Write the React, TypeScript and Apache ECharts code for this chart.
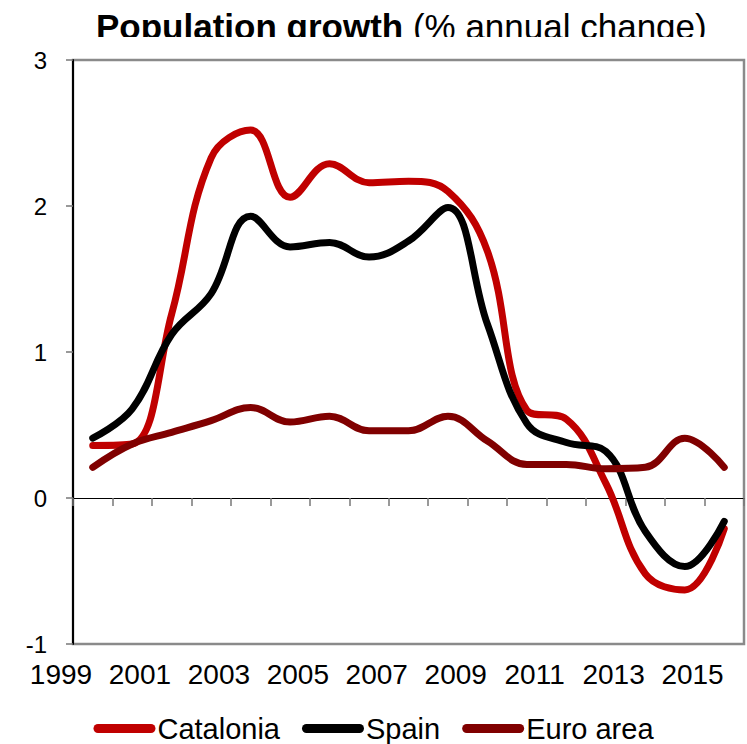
import React, { useEffect, useRef } from "react";
import * as echarts from "echarts";

// Yearly points, one per category slot
const years = [
  "2000", "2001", "2002", "2003", "2004", "2005", "2006", "2007", "2008",
  "2009", "2010", "2011", "2012", "2013", "2014", "2015", "2016",
];

// Axis labels along the bottom, one every two slots
const yearLabels = ["1999", "2001", "2003", "2005", "2007", "2009", "2011", "2013", "2015"];

const catalonia = [0.36, 0.37, 1.26, 2.33, 2.52, 2.06, 2.29, 2.16, 2.17, 2.1, 1.69, 0.6, 0.54, 0.1, -0.52, -0.63, -0.21];
const spain = [0.41, 0.61, 1.12, 1.4, 1.93, 1.72, 1.75, 1.65, 1.76, 1.99, 1.19, 0.51, 0.38, 0.32, -0.23, -0.47, -0.16];
const euroArea = [0.21, 0.37, 0.45, 0.53, 0.62, 0.52, 0.56, 0.46, 0.46, 0.56, 0.39, 0.23, 0.23, 0.2, 0.21, 0.41, 0.21];

const seriesNames = ["Catalonia", "Spain", "Euro area"];
const seriesColors = ["#C00000", "#000000", "#800000"];

const FONT = "'Liberation Sans', Arial, sans-serif";

export default function App() {
  const ref = useRef<HTMLDivElement>(null);

  useEffect(() => {
    if (!ref.current) return;
    const chart = echarts.init(ref.current, null, { renderer: "svg" });
    const values = [catalonia, spain, euroArea];

    chart.setOption({
      animation: false,
      backgroundColor: "#ffffff",
      textStyle: { fontFamily: FONT },
      title: {
        text: "{b|Population growth}{n| (% annual change)}",
        left: 91,
        top: 4,
        textStyle: {
          rich: {
            b: { fontFamily: FONT, fontSize: 35, fontWeight: "bold", color: "#000" },
            n: { fontFamily: FONT, fontSize: 35, fontWeight: "normal", color: "#000" },
          },
        },
      },
      graphic: [
        {
          // the heading is trimmed just under its baseline
          type: "rect",
          z: 100,
          shape: { x: 60, y: 37, width: 680, height: 14 },
          style: { fill: "#ffffff" },
        },
      ],
      legend: {
        bottom: -4,
        left: "center",
        itemWidth: 62,
        itemHeight: 9,
        itemGap: 22,
        icon: "path://M4.5,0 H57.5 A4.5,4.5 0 0 1 57.5,9 H4.5 A4.5,4.5 0 0 1 4.5,0 Z",
        textStyle: { fontFamily: FONT, fontSize: 29, color: "#000", padding: [0, 0, 0, -3] },
        data: seriesNames,
      },
      grid: {
        left: 73,
        right: 3,
        top: 60,
        bottom: 100,
        show: true,
        borderColor: "#8a8a8a",
        borderWidth: 2.5,
        containLabel: false,
      },
      xAxis: [
        {
          type: "category",
          data: years,
          boundaryGap: true,
          axisLine: { onZero: true, lineStyle: { color: "#000", width: 1.2 } },
          axisTick: { show: true, interval: 0, length: 8, lineStyle: { color: "#777", width: 1.5 } },
          axisLabel: { show: false },
          splitLine: { show: false },
        },
        {
          type: "value",
          min: 0,
          max: years.length,
          interval: 2,
          position: "bottom",
          axisLine: { show: false },
          axisTick: { show: false },
          splitLine: { show: false },
          axisLabel: {
            margin: 16,
            fontFamily: FONT,
            fontSize: 28,
            color: "#000",
            padding: [0, 24, 0, 0],
            showMaxLabel: false,
            formatter: (v: number) => yearLabels[Math.round(v / 2)] ?? "",
          },
        },
      ],
      yAxis: {
        type: "value",
        min: -1,
        max: 3,
        interval: 1,
        axisLine: { show: true, onZero: false, lineStyle: { color: "#000", width: 2 } },
        axisTick: { show: true, length: 7, lineStyle: { color: "#777", width: 1.5 } },
        splitLine: { show: false },
        axisLabel: { margin: 26, fontFamily: FONT, fontSize: 24, color: "#000" },
      },
      series: seriesNames.map((name, i) => ({
        name,
        type: "line",
        xAxisIndex: 0,
        data: values[i],
        smooth: 0.4,
        symbol: "none",
        lineStyle: { color: seriesColors[i], width: 7, cap: "round", join: "round" },
        itemStyle: { color: seriesColors[i] },
      })),
    });

    return () => chart.dispose();
  }, []);

  return (
    <div
      ref={ref}
      style={{ position: "fixed", left: 0, top: 0, width: 747, height: 744 }}
    />
  );
}
